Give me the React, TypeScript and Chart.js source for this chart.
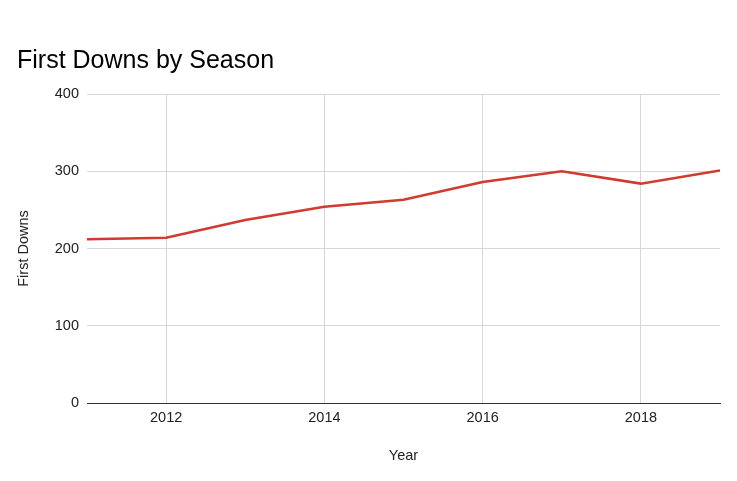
import React, { useEffect, useRef } from "react";
import { Chart, registerables } from "chart.js";

Chart.register(...registerables);

const years = [2011, 2012, 2013, 2014, 2015, 2016, 2017, 2018, 2019];
const firstDowns = [212, 214, 237, 254, 263, 286, 300, 284, 301];
const xTicks = [2012, 2014, 2016, 2018];
const yTicks = [0, 100, 200, 300, 400];

const FONT = "Arial, 'Liberation Sans', Helvetica, sans-serif";

export default function App() {
  const ref = useRef<HTMLCanvasElement | null>(null);

  useEffect(() => {
    if (!ref.current) return;
    const chart = new Chart(ref.current, {
      type: "line",
      data: {
        datasets: [
          {
            label: "First Downs",
            data: years.map((y, i) => ({ x: y, y: firstDowns[i] })),
            borderColor: "#d13a2e",
            backgroundColor: "#d13a2e",
            borderWidth: 2.5,
            pointRadius: 0,
            tension: 0,
            fill: false,
          },
        ],
      },
      options: {
        animation: false,
        responsive: false,
        maintainAspectRatio: false,
        layout: { padding: { left: 17, right: 17, top: 0, bottom: 0 } },
        plugins: {
          legend: { display: false },
          tooltip: { enabled: false },
          title: {
            display: true,
            text: "First Downs by Season",
            align: "start",
            color: "#000",
            font: { family: FONT, size: 25, weight: "normal", lineHeight: 1.2 },
            padding: { top: 46, bottom: 18 },
          },
        },
        scales: {
          x: {
            type: "linear",
            min: 2011,
            max: 2019,
            afterBuildTicks: (scale: any) => {
              scale.ticks = xTicks.map((v) => ({ value: v }));
            },
            afterFit: (scale: any) => {
              scale.height = 78;
            },
            ticks: {
              color: "#222",
              font: { family: FONT, size: 14.5 },
              padding: 6,
              maxRotation: 0,
              callback: (v: any) => String(v),
            },
            grid: { color: "#d6d6d6", drawTicks: false, lineWidth: 1 },
            border: { display: true, color: "#333", width: 1 },
            title: {
              display: true,
              text: "Year",
              color: "#222",
              font: { family: FONT, size: 14.5, lineHeight: 1.2 },
              padding: { top: 0, bottom: 16 },
            },
          },
          y: {
            type: "linear",
            min: 0,
            max: 400,
            afterBuildTicks: (scale: any) => {
              scale.ticks = yTicks.map((v) => ({ value: v }));
            },
            afterFit: (scale: any) => {
              scale.width = 70;
            },
            ticks: {
              color: "#222",
              font: { family: FONT, size: 14.5 },
              padding: 8,
            },
            grid: { color: "#d6d6d6", drawTicks: false, lineWidth: 1 },
            border: { display: false },
            title: {
              display: true,
              text: "First Downs",
              color: "#222",
              font: { family: FONT, size: 14.5, lineHeight: 1.2 },
              padding: { top: -2, bottom: 0 },
            },
          },
        },
      },
    });
    return () => chart.destroy();
  }, []);

  return (
    <div style={{ position: "fixed", left: 0, top: 0, width: 737, height: 481, background: "#fff" }}>
      <canvas ref={ref} width={737} height={481} style={{ display: "block", width: 737, height: 481 }} />
    </div>
  );
}
